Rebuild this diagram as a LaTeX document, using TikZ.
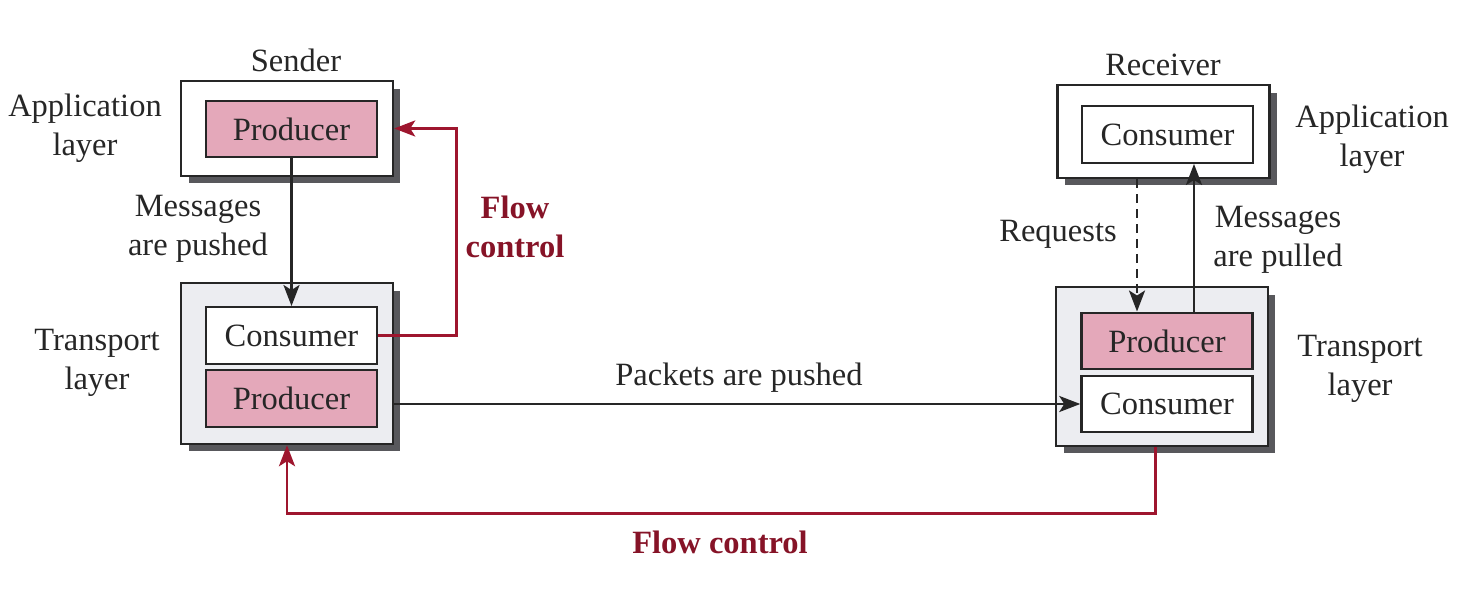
\documentclass[tikz,border=0pt]{standalone}
\usepackage{fontspec}
\setmainfont{Liberation Serif}
\usetikzlibrary{shadows,arrows.meta}
\definecolor{prodpink}{RGB}{228,168,186}
\definecolor{flowred}{RGB}{158,22,46}
\definecolor{layergray}{RGB}{236,237,241}
\definecolor{shadowgray}{RGB}{88,88,92}

\begin{document}
\begin{tikzpicture}[x=0.02cm, y=-0.02cm, font=\fontsize{18.5}{22}\selectfont, >={Stealth[length=0.42cm,width=0.32cm,inset=0.1cm]}]
      \tikzset{
	  layerbox/.style={rectangle, draw=black!85, line width=1.4pt, inner sep=0pt, minimum width=4.24cm, drop shadow={shadow xshift=0.15cm, shadow yshift=-0.15cm, fill=shadowgray, opacity=1}},
	  producer/.style={rectangle, draw=black!85, line width=1.4pt, fill=prodpink, inner sep=0pt, minimum width=3.42cm, minimum height=1.13cm, text=black!85},
	  consumer/.style={producer, fill=white},
	  msg/.style={draw=black!85, line width=1.5pt},
	  flow/.style={draw=flowred, line width=1.7pt},
	  flowlabel/.style={text=flowred!85!black, font=\fontsize{18.5}{22}\selectfont\bfseries, align=center},
	  layerlabel/.style={align=center, text=black!85}
      }
      \useasboundingbox (0,0) rectangle (1460,601);

      % sender side
      \node at (287,128.5) [layerbox, fill=white, minimum height=1.9cm] (sapp) {};
      \node at (287,363.5) [layerbox, fill=layergray, minimum height=3.22cm] (stp) {};
      \node at (291.5,129) [producer] (sprod) {Producer};
      \node at (291.5,335.5) [consumer] (scons) {Consumer};
      \node at (291.5,398.5) [producer] (stprod) {Producer};

      % receiver side
      \node at (1163.5,131.5) [layerbox, fill=white, minimum height=1.86cm] (rapp) {};
      \node at (1162,366.5) [layerbox, fill=layergray, minimum height=3.18cm] (rtp) {};
      \node at (1167.5,134.5) [consumer] (rcons) {Consumer};
      \node at (1167,341) [producer] (rprod) {Producer};
      \node at (1167,404) [consumer] (rtcons) {Consumer};

      % labels
      \node at (296,60) [layerlabel] (sendl) {Sender};
      \node at (85,128) [layerlabel] (sappl) {Application\\layer};
      \node at (97,363) [layerlabel] (stpl) {Transport\\layer};
      \node at (198,229) [layerlabel] (pushl) {Messages\\are pushed};
      \node at (515,227) [flowlabel] (flowtop) {Flow\\control};
      \node at (1163,65) [layerlabel] (recvl) {Receiver};
      \node at (1372,139.5) [layerlabel] (rappl) {Application\\layer};
      \node at (1360,369) [layerlabel] (rtpl) {Transport\\layer};
      \node at (1058,234) [layerlabel] (reql) {Requests};
      \node at (1278,240) [layerlabel] (pulll) {Messages\\are pulled};
      \node at (739,378) [layerlabel] (packl) {Packets are pushed};
      \node at (720,542) [flowlabel] (flowbot) {Flow control};

      % connectors
      \draw [msg,->] (sprod.south) -- (scons.north);
      \draw [flow,->] (scons.east) -- ++(78,0) |- (sapp.east);
      \draw [msg,->] (stp.east |- rtcons.west) -- (rtcons.west);
      \draw [flow,->] ([xshift=-0.14cm]rtp.south) -- ++(0,66) -| (stp.south);

      \coordinate (reqx) at ([xshift=-0.6cm]rprod.north);
      \coordinate (pullx) at ([xshift=0.54cm]rprod.north);
      \draw [msg,->,dash pattern=on 5pt off 3.5pt] (reqx |- rapp.south) -- (reqx);
      \draw [msg,->] (pullx) -- (pullx |- rcons.south);
\end{tikzpicture}
\end{document}
